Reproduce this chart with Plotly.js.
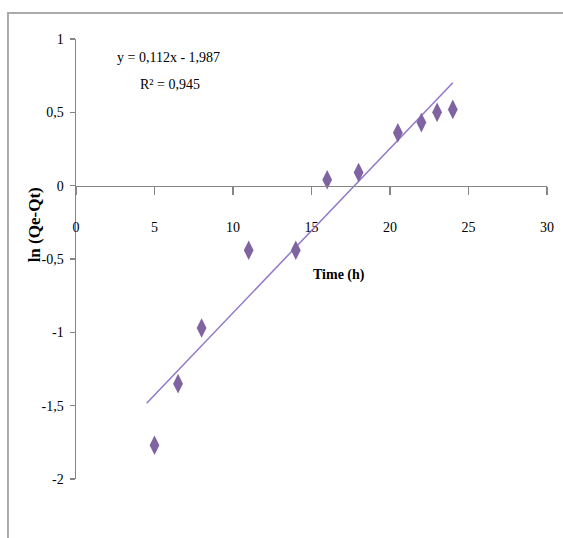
<!DOCTYPE html>
<html><head><meta charset="utf-8">
<script src="https://cdn.plot.ly/plotly-3.0.1.min.js"></script>
<style>html,body{margin:0;padding:0;background:#fff;}#chart{width:563px;height:538px;}</style>
</head><body><div id="chart"></div>
<script>
const timeH = [5, 6.5, 8, 11, 14, 16, 18, 20.5, 22, 23, 24];
const lnQ = [-1.77, -1.35, -0.97, -0.44, -0.44, 0.04, 0.09, 0.36, 0.43, 0.50, 0.52];
const slope = 0.112, intercept = -1.987;
const trendX = [4.5, 24];
const xTicks = [0, 5, 10, 15, 20, 25, 30];
const yTicks = [1, 0.5, 0, -0.5, -1, -1.5, -2];
const yTickText = ['1', '0,5', '0', '-0,5', '-1', '-1,5', '-2'];

const serif = 'Liberation Serif, Times New Roman, serif';
const tickFont = {family: serif, size: 14, color: '#000'};
const data = [
  {x: trendX, y: trendX.map(v => slope * v + intercept), mode: 'lines', type: 'scatter',
   line: {color: '#9277C9', width: 1.5}, hoverinfo: 'skip'},
  {x: timeH, y: lnQ, mode: 'markers', type: 'scatter',
   marker: {symbol: 'diamond-tall', size: 14, color: '#8064A2'}}
];
const layout = {
  width: 563, height: 538,
  margin: {l: 76, r: 16, t: 39, b: 59},
  showlegend: false,
  paper_bgcolor: '#fff', plot_bgcolor: 'rgba(0,0,0,0)',
  xaxis: {range: [0, 30], tickvals: xTicks, ticktext: xTicks.map(String),
    showgrid: false, zeroline: false, showline: true, linecolor: '#868686', linewidth: 1.5,
    ticks: 'outside', ticklen: 8, tickcolor: '#868686', tickwidth: 1.2,
    anchor: 'free', position: 2/3, ticklabelstandoff: 20, tickfont: tickFont, fixedrange: true},
  yaxis: {range: [-2, 1], tickvals: yTicks, ticktext: yTickText,
    showgrid: false, zeroline: false, showline: true, linecolor: '#868686', linewidth: 1.5,
    ticks: 'outside', ticklen: 5, tickcolor: '#868686', tickwidth: 1.2,
    ticklabelstandoff: 3, tickfont: tickFont, fixedrange: true},
  shapes: [{type: 'rect', xref: 'paper', yref: 'paper', x0: -0.1444, x1: 1.2, y0: -0.3, y1: 1.059,
    line: {color: '#ababab', width: 2}, layer: 'below'}],
  annotations: [
    {text: 'y = 0,112x - 1,987', xref: 'x', yref: 'y', x: 5.9, y: 0.873, showarrow: false,
     font: {family: serif, size: 14, color: '#000'}},
    {text: 'R² = 0,945', xref: 'x', yref: 'y', x: 6.0, y: 0.69, showarrow: false,
     font: {family: serif, size: 14, color: '#000'}},
    {text: '<b>Time (h)</b>', xref: 'x', yref: 'y', x: 16.75, y: -0.607, showarrow: false,
     font: {family: serif, size: 14, color: '#000'}},
    {text: '<b>ln (Qe-Qt)</b>', xref: 'paper', yref: 'y', x: -0.089, y: -0.27, xanchor: 'center', yanchor: 'middle',
     showarrow: false, textangle: -90,
     font: {family: serif, size: 17, color: '#000'}}
  ]
};
Plotly.newPlot('chart', data, layout, {displayModeBar: false, staticPlot: true});
</script></body></html>
